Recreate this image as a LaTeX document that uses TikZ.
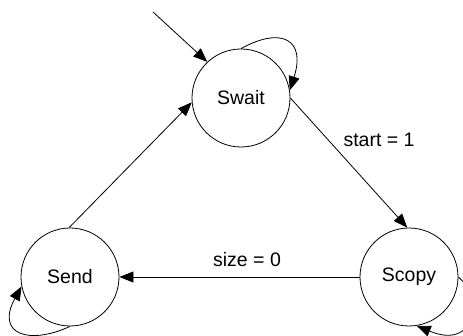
\documentclass[tikz,border=0pt]{standalone}
\usepackage{fontspec}
\setmainfont{Liberation Sans}
\usetikzlibrary{arrows.meta}
\begin{document}
\begin{tikzpicture}[x=1pt,y=-1pt,
  state/.style={draw,circle,minimum size=98pt,inner sep=0pt,line width=0.8pt,font=\fontsize{19.5}{21}\selectfont},
  trans/.style={line width=0.8pt,-{Triangle[length=14pt,width=11pt]}},
  lbl/.style={font=\fontsize{19.5}{21}\selectfont}]
\useasboundingbox (0,0) rectangle (463,336);
\node[state] (Swait) at (241,98) {Swait};
\node[state] (Send) at (70,277) {Send};
\node[state] (Scopy) at (409,277) {Scopy};
\coordinate (init) at (153,12);
\draw[trans] (init) -- (Swait.133);
\draw[trans] (Swait.90) .. controls (282,26) and (306,40) .. (Swait.9);
\draw[trans] (Swait.0) -- (Scopy.92);
\draw[trans] (Scopy.180) -- (Send.0);
\draw[trans] (Send.91) -- (Swait.185);
\draw[trans] (Send.270) .. controls (30,345) and (-5,335) .. (Send.191);
\draw[trans] (Scopy.0) .. controls (485,300) and (475,350) .. (Scopy.-81);
\node[lbl] (l1) at (379,140) {start = 1};
\node[lbl] (l2) at (247,260) {size = 0};
\end{tikzpicture}
\end{document}
